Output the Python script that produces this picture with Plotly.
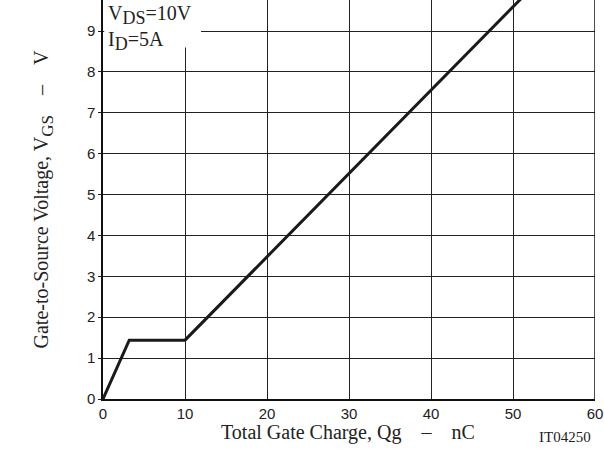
import plotly.graph_objects as go

# Gate charge curve (Qg in nC, VGS in V)
qg = [0, 3.2, 10, 52]
vgs = [0, 1.44, 1.44, 10]

x_ticks = [0, 10, 20, 30, 40, 50, 60]
y_ticks = [0, 1, 2, 3, 4, 5, 6, 7, 8, 9]

fig = go.Figure()
fig.add_trace(go.Scatter(x=qg, y=vgs, mode="lines",
                         line=dict(color="#1a1a1a", width=3),
                         showlegend=False, hoverinfo="skip"))

sans = "Liberation Sans, Arial, sans-serif"
serif = "Liberation Serif, Times New Roman, serif"
sp = "&nbsp;" * 4

fig.update_layout(
    width=604, height=462,
    margin=dict(l=103, r=9, t=0, b=63),
    paper_bgcolor="white", plot_bgcolor="white",
    xaxis=dict(range=[0, 60], tickvals=x_ticks, ticktext=[str(v) for v in x_ticks],
               showgrid=True, gridcolor="#222", gridwidth=1,
               showline=True, linecolor="#111", linewidth=1.5,
               ticks="", zeroline=False,
               tickfont=dict(family=sans, size=15, color="#222")),
    yaxis=dict(range=[0, 9.76], tickvals=y_ticks, ticktext=[str(v) for v in y_ticks],
               showgrid=True, gridcolor="#222", gridwidth=1,
               showline=True, linecolor="#111", linewidth=1.5,
               ticks="outside", ticklen=3, tickcolor="#222", zeroline=False,
               tickfont=dict(family=sans, size=15, color="#222")),
    shapes=[
        dict(type="rect", xref="x", yref="y", x0=0.15, x1=11.95, y0=8.6, y1=10,
             fillcolor="white", line=dict(width=0), layer="between"),
        dict(type="line", xref="x", yref="paper", x0=60, x1=60, y0=0, y1=1,
             line=dict(color="#111", width=1.5), layer="above"),
    ],
    annotations=[
        dict(text="V<sub><span style='font-size:18px'>DS</span></sub>=10V<br>"
                  "I<sub><span style='font-size:18px'>D</span></sub>=5A",
             xref="paper", yref="paper", x=0.008, y=0.998, align="left",
             xanchor="left", yanchor="top", showarrow=False, borderpad=0,
             font=dict(family=serif, size=20, color="#222")),
        dict(text="Total Gate Charge, Qg" + sp + "–" + sp + "nC",
             xref="paper", yref="paper", x=0.498, y=-0.083,
             xanchor="center", yanchor="middle", showarrow=False,
             font=dict(family=serif, size=20, color="#222")),
        dict(text="Gate-to-Source Voltage, V<sub><span style='font-size:17px'>GS</span></sub>" + sp + "–" + sp + "V",
             xref="paper", yref="paper", x=-0.122, y=0.50, textangle=-90,
             xanchor="center", yanchor="middle", showarrow=False,
             font=dict(family=serif, size=20, color="#222")),
        dict(text="IT04250", xref="paper", yref="paper", x=0.996, y=-0.095,
             xanchor="right", yanchor="middle", showarrow=False,
             font=dict(family=serif, size=15, color="#222")),
    ],
)

fig.write_html("out.html")
